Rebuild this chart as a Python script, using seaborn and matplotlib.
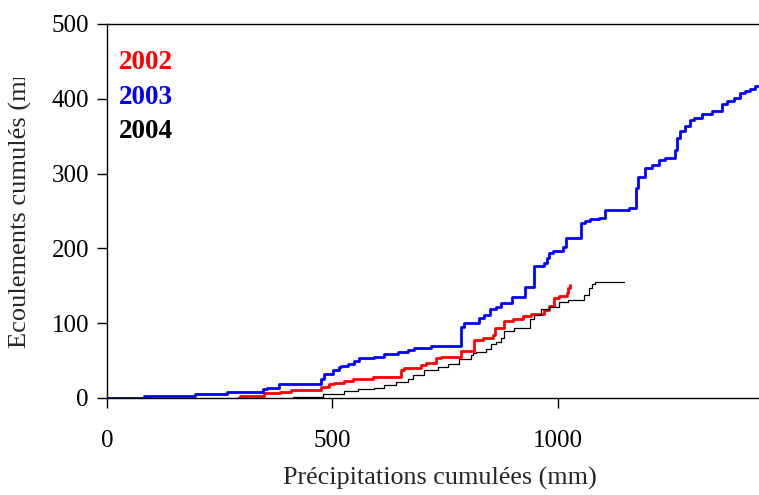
import matplotlib
matplotlib.use("Agg")
import matplotlib.pyplot as plt
import seaborn as sns
from matplotlib.transforms import Bbox

# 2003 (blue)
x2003 = [0, 82, 196, 267, 347, 354, 381, 474, 481, 501, 514, 519, 535, 548, 559, 592, 615, 646, 668, 681,
         719, 786, 793, 826, 837, 849, 864, 875, 898, 927, 947, 969, 976, 982, 989, 1013, 1018, 1053, 1060,
         1071, 1091, 1105, 1158, 1174, 1178, 1194, 1209, 1225, 1238, 1261, 1265, 1272, 1283, 1294, 1303,
         1321, 1343, 1365, 1376, 1392, 1405, 1416, 1428, 1439, 1460]
y2003 = [0, 2.5, 6, 8, 12, 14, 19, 25, 32, 37, 41, 43, 45, 49, 53, 55, 59, 61, 64, 67,
         70, 95, 100, 107, 111, 119, 122, 127, 135, 149, 176, 180, 187, 194, 197, 202, 214, 234, 237,
         239, 241, 251, 254, 281, 296, 307, 311, 318, 321, 332, 348, 357, 364, 372, 375,
         380, 384, 393, 397, 401, 408, 411, 413, 417, 417]

# 2002 (red)
x2002 = [290, 296, 348, 385, 408, 474, 493, 503, 526, 546, 590, 653, 659, 697, 708, 731, 742, 786, 815,
         835, 857, 860, 880, 902, 924, 942, 969, 982, 993, 1002, 1020, 1024, 1027]
y2002 = [0, 2.5, 6.5, 8.5, 10.7, 15, 19, 20, 23, 25, 28.5, 37, 40, 44, 47, 53, 55, 63, 77,
         80, 84, 94, 103, 106, 109, 112, 118, 123, 134, 137, 140, 147, 151]

# 2004 (black)
x2004 = [412, 479, 526, 557, 592, 615, 641, 668, 679, 704, 735, 757, 782, 808, 813, 820, 842, 853, 864,
         875, 882, 904, 938, 947, 964, 980, 1002, 1024, 1058, 1069, 1076, 1082, 1147]
y2004 = [2, 5, 9, 12, 14, 17, 21, 26, 31, 37, 42, 46, 52, 57, 60, 62, 65, 72, 75,
         80, 89, 93, 106, 111, 119, 122, 129, 131, 138, 147, 152, 155, 155]

labels = ["2002", "2003", "2004"]
colors = ["#ff0000", "#0000ff", "#000000"]

sns.set_style("white")
plt.rcParams["font.family"] = ["Liberation Serif", "DejaVu Serif"]

W, H = 759, 495
fig = plt.figure(figsize=(W/100, H/100), dpi=100)
ax = fig.add_axes([107/W, 1-398/H, 1.003-107/W, (398-24)/H])

sns.lineplot(x=x2002, y=y2002, ax=ax, color=colors[0], lw=2.0, drawstyle="steps-post",
             estimator=None, sort=False)
sns.lineplot(x=x2003, y=y2003, ax=ax, color=colors[1], lw=2.0, drawstyle="steps-post",
             estimator=None, sort=False)
sns.lineplot(x=x2004, y=y2004, ax=ax, color=colors[2], lw=0.9, drawstyle="steps-post",
             estimator=None, sort=False)

ax.set_xlim(0, 1452)
ax.set_ylim(0, 500)
ax.set_xticks([0, 500, 1000])
ax.set_yticks([0, 100, 200, 300, 400, 500])
for s in ax.spines.values():
    s.set_color("black")
    s.set_linewidth(1.0)
ax.tick_params(axis="both", which="major", direction="out", length=7, width=1, color="black",
               labelsize=18, left=True, bottom=True, labelcolor="black")
ax.tick_params(axis="x", pad=16)
ax.tick_params(axis="y", pad=6)
ax.set_xlabel("")
ax.set_ylabel("")

ys = [63, 98, 132]
for lab, c, yy in zip(labels, colors, ys):
    fig.text(119/W, 1-yy/H, lab, color=c, fontsize=19.5, fontweight="bold", ha="left", va="center")

fig.text(440/W, 1-478/H, "Précipitations cumulées (mm)", fontsize=18.8, ha="center", va="center")
yl = fig.text(20/W, 1-348/H, "Ecoulements cumulés (mm)", fontsize=19, rotation=90,
              ha="center", va="bottom")
# the reference's axis title is truncated at the top
yl.set_clip_box(Bbox.from_extents(0, 0, 60, H - 78))
yl.set_clip_on(True)

fig.savefig("out.png", dpi=100)
